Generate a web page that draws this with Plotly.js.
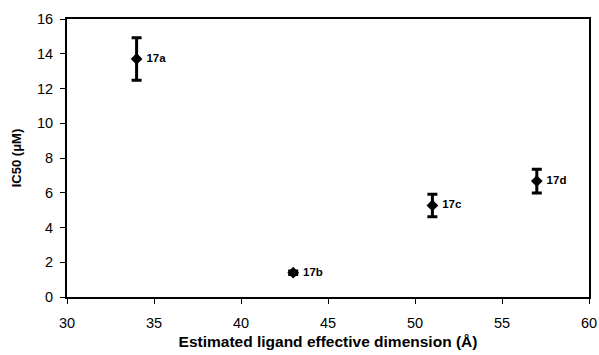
<!DOCTYPE html>
<html>
<head>
<meta charset="utf-8">
<script src="https://cdn.plot.ly/plotly-3.0.1.min.js"></script>
<style>html,body{margin:0;padding:0;background:#fff;}#chart{width:599px;height:355px;}</style>
</head>
<body>
<div id="chart"></div>
<script>
const labels = ["17a", "17b", "17c", "17d"];
const dimension = [34, 43, 51, 57];
const ic50 = [13.7, 1.4, 5.27, 6.67];
const ic50Err = [1.22, 0.1, 0.65, 0.68];
const xTicks = [30, 35, 40, 45, 50, 55, 60];
const yTicks = [0, 2, 4, 6, 8, 10, 12, 14, 16];

const trace = {
  x: dimension,
  y: ic50,
  text: labels.map(l => " " + l),
  mode: "markers+text",
  type: "scatter",
  textposition: "middle right",
  textfont: {family: "Liberation Sans, Arial, sans-serif", size: 11.5, color: "#000", weight: "bold"},
  marker: {symbol: "diamond", size: 9, color: "#000"},
  error_y: {type: "data", array: ic50Err, visible: true, color: "#000", thickness: 3, width: 5},
  cliponaxis: false,
  showlegend: false
};

const layout = {
  width: 599, height: 355,
  margin: {l: 67, r: 10, t: 19, b: 58},
  paper_bgcolor: "#fff", plot_bgcolor: "#fff",
  font: {family: "Liberation Sans, Arial, sans-serif", color: "#000", size: 14},
  xaxis: {
    range: [30, 60], tickvals: xTicks, ticktext: xTicks.map(String),
    showgrid: false, zeroline: false,
    showline: true, linecolor: "#000", linewidth: 2, mirror: true,
    ticks: "outside", ticklen: 5, tickcolor: "#000", tickwidth: 1,
    ticklabelstandoff: 7,
    tickfont: {size: 14.5},
    title: {text: "Estimated ligand effective dimension (Å)", font: {size: 15.5, weight: "bold"}, standoff: 6}
  },
  yaxis: {
    range: [0, 16], tickvals: yTicks, ticktext: yTicks.map(String),
    showgrid: false, zeroline: false,
    showline: true, linecolor: "#000", linewidth: 2, mirror: true,
    ticks: "outside", ticklen: 5, tickcolor: "#000", tickwidth: 1,
    ticklabelstandoff: 4,
    tickfont: {size: 14.5},
    title: {text: "IC50 (μM)", font: {size: 13, weight: "bold"}, standoff: 12}
  }
};

Plotly.newPlot("chart", [trace], layout, {displayModeBar: false, staticPlot: true});
</script>
</body>
</html>
